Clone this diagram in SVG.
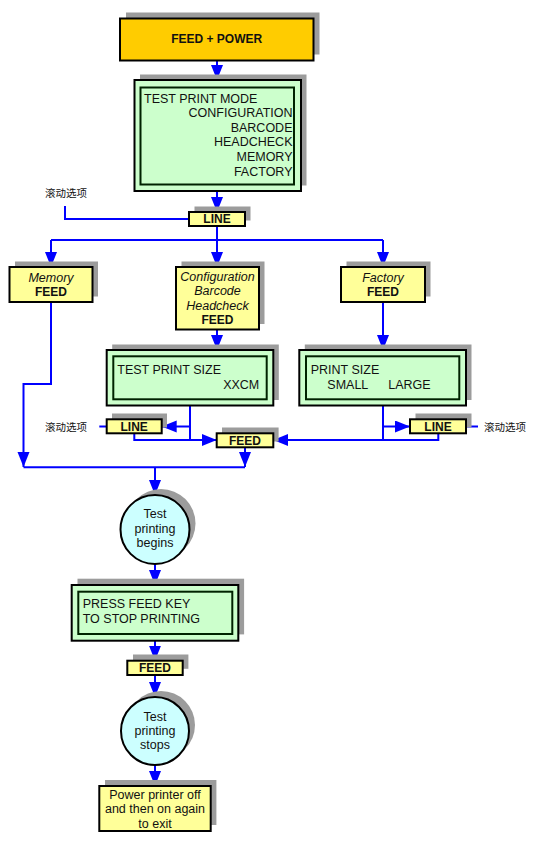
<svg xmlns="http://www.w3.org/2000/svg" width="546" height="845" viewBox="0 0 546 845">
<style>
.bg{fill:#ffffff}
.sh{fill:#9c9c9c}
.or{fill:#ffcc00;stroke:#000;stroke-width:2}
.ye{fill:#ffff99;stroke:#000;stroke-width:2}
.gr{fill:#ccffcc;stroke:#000;stroke-width:2}
.gi{fill:#ccffcc;stroke:#002200;stroke-width:2}
.cy{fill:#ccffff;stroke:#000;stroke-width:2}
text{font-family:"Liberation Sans",Arial,sans-serif;font-size:12.5px;fill:#111}
.b{font-weight:bold;font-size:12px}
.i{font-style:italic}
.c{text-anchor:middle}
.r{text-anchor:end}
.zh{font-family:"Noto Sans CJK SC","Liberation Sans",sans-serif;font-size:10.5px}
.ln{fill:none;stroke:#0000ff;stroke-width:2}
</style>
<defs>
<marker id="ah" markerUnits="userSpaceOnUse" markerWidth="16" markerHeight="13" refX="15" refY="6" orient="auto">
<path d="M0,0 L15,6 L0,12 z" fill="#0000ff"/>
</marker>
</defs>
<rect class="bg" x="0" y="0" width="546" height="845"/>

<g id="connectors">
<path class="ln" d="M217,61 V80" marker-end="url(#ah)"/>
<path class="ln" d="M217,191 V212" marker-end="url(#ah)"/>
<path class="ln" d="M65,206 V219 H189"/>
<path class="ln" d="M217,226 V240 M51,240 H383"/>
<path class="ln" d="M51,240 V267" marker-end="url(#ah)"/>
<path class="ln" d="M217,240 V267" marker-end="url(#ah)"/>
<path class="ln" d="M383,240 V267" marker-end="url(#ah)"/>
<path class="ln" d="M217,329.5 V350" marker-end="url(#ah)"/>
<path class="ln" d="M383,302 V350" marker-end="url(#ah)"/>
<path class="ln" d="M51,302 V384 H23.5 V467" marker-end="url(#ah)"/>
<path class="ln" d="M190,405.5 V440"/>
<path class="ln" d="M190,426.5 H161.7" marker-end="url(#ah)"/>
<path class="ln" d="M99.3,426.5 H106.7"/>
<path class="ln" d="M134.3,433.3 V440 H216.7" marker-end="url(#ah)"/>
<path class="ln" d="M383,405.5 V440"/>
<path class="ln" d="M383,426.5 H410" marker-end="url(#ah)"/>
<path class="ln" d="M466,426.5 H478"/>
<path class="ln" d="M438.3,433.3 V440 H273.3" marker-end="url(#ah)"/>
<path class="ln" d="M245,447.3 V467" marker-end="url(#ah)"/>
<path class="ln" d="M23.5,467.3 H245"/>
<path class="ln" d="M155,467.3 V495" marker-end="url(#ah)"/>
<path class="ln" d="M155,564 V585" marker-end="url(#ah)"/>
<path class="ln" d="M155,640.7 V660.7" marker-end="url(#ah)"/>
<path class="ln" d="M155,675 V697" marker-end="url(#ah)"/>
<path class="ln" d="M155,765 V786" marker-end="url(#ah)"/>
</g>

<g id="feed-power">
<rect class="sh" x="126" y="12.5" width="193.5" height="42"/>
<rect class="or" x="120" y="18.5" width="193.5" height="42"/>
<text class="b c" x="216.7" y="42.5">FEED + POWER</text>
</g>

<g id="test-print-mode">
<rect class="sh" x="140" y="74.5" width="166.5" height="111"/>
<rect class="gr" x="134.5" y="80" width="166.5" height="111"/>
<rect class="gi" x="140.5" y="87.5" width="153.5" height="97"/>
<text x="144" y="102.5">TEST PRINT MODE</text>
<text class="r" x="292.5" y="116.8">CONFIGURATION</text>
<text class="r" x="292.5" y="131.5">BARCODE</text>
<text class="r" x="292.5" y="146.2">HEADCHECK</text>
<text class="r" x="292.5" y="161">MEMORY</text>
<text class="r" x="292.5" y="175.7">FACTORY</text>
</g>

<g id="scroll-top">
<text class="zh" x="45" y="196.5">滚动选项</text>
</g>

<g id="line-top">
<rect class="sh" x="194.5" y="206.5" width="56" height="14"/>
<rect class="ye" x="189" y="212" width="56" height="14"/>
<text class="b c" x="217" y="223">LINE</text>
</g>

<g id="memory">
<rect class="sh" x="15" y="261.5" width="83" height="35"/>
<rect class="ye" x="9.5" y="267" width="83" height="35"/>
<text class="i c" x="51" y="281.7">Memory</text>
<text class="b c" x="51" y="295.5">FEED</text>
</g>

<g id="configuration">
<rect class="sh" x="181.5" y="261.5" width="83" height="62.5"/>
<rect class="ye" x="176" y="267" width="83" height="62.5"/>
<text class="i c" x="217.5" y="280.7">Configuration</text>
<text class="i c" x="217.5" y="295.3">Barcode</text>
<text class="i c" x="217.5" y="309.5">Headcheck</text>
<text class="b c" x="217.5" y="324">FEED</text>
</g>

<g id="factory">
<rect class="sh" x="346.5" y="261.5" width="84" height="35"/>
<rect class="ye" x="341" y="267" width="84" height="35"/>
<text class="i c" x="383" y="281.7">Factory</text>
<text class="b c" x="383" y="295.5">FEED</text>
</g>

<g id="test-print-size">
<rect class="sh" x="112.2" y="344.5" width="166.6" height="55.5"/>
<rect class="gr" x="106.7" y="350" width="166.6" height="55.5"/>
<rect class="gi" x="113.3" y="356.3" width="153.4" height="43"/>
<text x="117.3" y="374">TEST PRINT SIZE</text>
<text class="r" x="259.3" y="389.3">XXCM</text>
</g>

<g id="print-size">
<rect class="sh" x="304.8" y="344.5" width="166.7" height="55.5"/>
<rect class="gr" x="299.3" y="350" width="166.7" height="55.5"/>
<rect class="gi" x="306" y="356.3" width="153.3" height="43"/>
<text x="310.7" y="374">PRINT SIZE</text>
<text x="327.3" y="389">SMALL</text>
<text x="388.3" y="389">LARGE</text>
</g>

<g id="line-left">
<rect class="sh" x="112" y="413.5" width="55" height="14"/>
<rect class="ye" x="106.7" y="419.3" width="55" height="14"/>
<text class="b c" x="134.2" y="430.7">LINE</text>
</g>

<g id="scroll-left">
<text class="zh" x="45" y="430.5">滚动选项</text>
</g>

<g id="feed-mid">
<rect class="sh" x="222" y="427.5" width="56.6" height="14"/>
<rect class="ye" x="216.7" y="433.3" width="56.6" height="14"/>
<text class="b c" x="245" y="444.5">FEED</text>
</g>

<g id="line-right">
<rect class="sh" x="415.5" y="413.5" width="56" height="14"/>
<rect class="ye" x="410" y="419.3" width="56" height="14"/>
<text class="b c" x="438" y="430.7">LINE</text>
</g>

<g id="scroll-right">
<text class="zh" x="484" y="430.5">滚动选项</text>
</g>

<g id="printing-begins">
<circle class="sh" cx="161" cy="523.5" r="34.5"/>
<circle class="cy" cx="155" cy="529.5" r="34.5"/>
<text class="c" x="155" y="518.3">Test</text>
<text class="c" x="155" y="532.6">printing</text>
<text class="c" x="155" y="546.8">begins</text>
</g>

<g id="press-feed">
<rect class="sh" x="77.5" y="578.7" width="166.6" height="55.7"/>
<rect class="gr" x="71.7" y="585" width="166.6" height="55.7"/>
<rect class="gi" x="78.3" y="591.7" width="154" height="42.3"/>
<text x="82.7" y="608.3">PRESS FEED KEY</text>
<text x="82.7" y="623.3">TO STOP PRINTING</text>
</g>

<g id="feed-bottom">
<rect class="sh" x="133" y="654.5" width="55.4" height="14.3"/>
<rect class="ye" x="127.3" y="660.7" width="55.4" height="14.3"/>
<text class="b c" x="155" y="671.8">FEED</text>
</g>

<g id="printing-stops">
<circle class="sh" cx="161" cy="725" r="34"/>
<circle class="cy" cx="155" cy="731" r="34"/>
<text class="c" x="155" y="720.7">Test</text>
<text class="c" x="155" y="735">printing</text>
<text class="c" x="155" y="749">stops</text>
</g>

<g id="power-off">
<rect class="sh" x="105" y="780" width="111.4" height="45"/>
<rect class="ye" x="99.3" y="786" width="111.4" height="45"/>
<text class="c" x="155" y="798.5">Power printer off</text>
<text class="c" x="155" y="813">and then on again</text>
<text class="c" x="155" y="827.5">to exit</text>
</g>
</svg>
